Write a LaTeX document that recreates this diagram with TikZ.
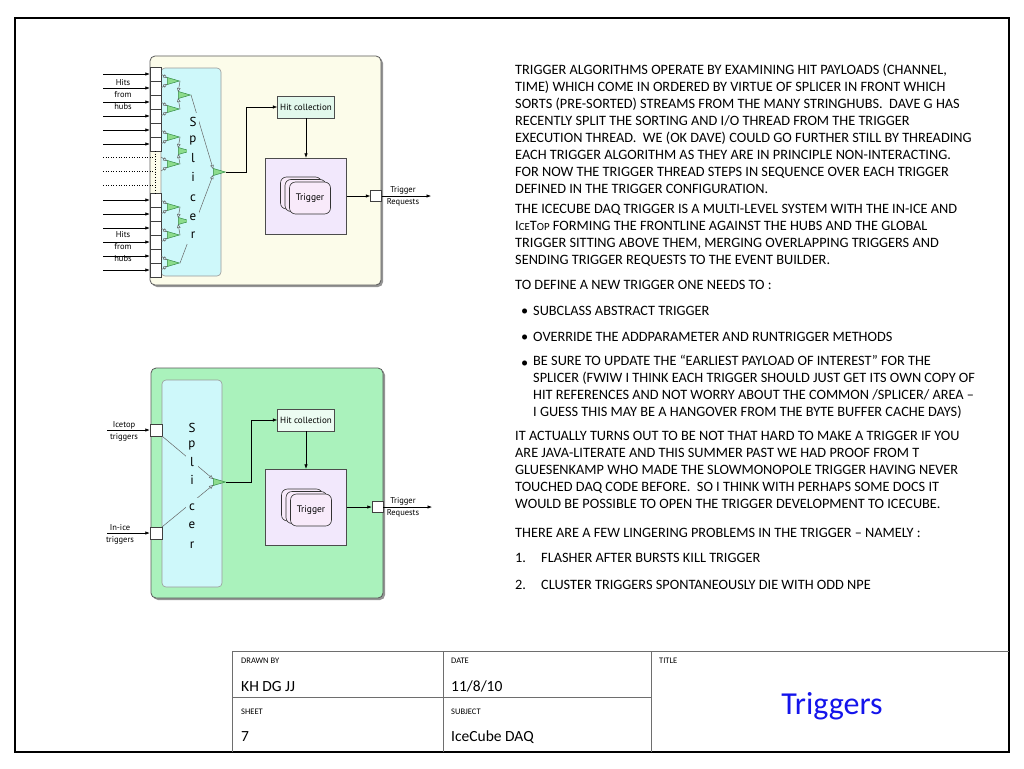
\documentclass[tikz,border=0pt]{standalone}
\usepackage{fontspec}
\setmainfont{Carlito}
\newfontfamily\diagfont{PT Sans}
\usetikzlibrary{arrows.meta,positioning,shapes.geometric,shadows,calc}

\definecolor{creamfill}{RGB}{252,252,234}
\definecolor{panelgreen}{RGB}{170,242,188}
\definecolor{splicecyan}{RGB}{206,248,250}
\definecolor{hitmint}{RGB}{226,248,236}
\definecolor{hitpale}{RGB}{236,252,242}
\definecolor{triglav}{RGB}{242,232,252}
\definecolor{cardfill}{RGB}{248,234,250}
\definecolor{muxgreen}{RGB}{140,220,140}
\definecolor{muxedge}{RGB}{50,140,70}
\definecolor{titleblue}{RGB}{20,20,235}
\definecolor{rulegray}{RGB}{110,110,110}

\begin{document}
\begin{tikzpicture}[x=1pt,y=-1pt,
    every node/.style={inner sep=0pt},
    panel/.style={draw=black!65, rounded corners=5pt, line width=0.8pt,
        drop shadow={shadow xshift=2pt, shadow yshift=-2pt, fill=black!60, opacity=0.7}},
    splicebox/.style={draw=black!40, fill=splicecyan, rounded corners=4pt, line width=0.6pt},
    port/.style={rectangle, draw=black!75, fill=white, minimum width=11pt, minimum height=14pt, line width=0.5pt},
    outport/.style={rectangle, draw=black!75, fill=white, minimum width=11pt, minimum height=11pt, line width=0.5pt},
    mux/.style={isosceles triangle, isosceles triangle stretches, shape border rotate=0,
        minimum width=7pt, minimum height=12pt, draw=muxedge, fill=muxgreen, line width=0.5pt},
    feed/.style={-{Triangle[open, length=4pt, width=3.5pt]}, draw=black!60, line width=0.5pt},
    letter/.style={fill=splicecyan, minimum width=12pt, minimum height=18pt, font=\diagfont\fontsize{13}{13}\selectfont},
    hitbox/.style={rectangle, draw=black!70, minimum width=57pt, minimum height=22pt, font=\diagfont\fontsize{9}{10}\selectfont},
    trigbox/.style={rectangle, draw=black!70, fill=triglav, minimum width=81pt, minimum height=76pt},
    card/.style={rectangle, draw=black!80, fill=cardfill, rounded corners=6pt, minimum width=41pt, minimum height=32pt,
        line width=0.6pt, font=\diagfont\fontsize{9.5}{10}\selectfont},
    arrow/.style={-{Latex[length=4.5pt, width=3.5pt]}, line width=0.6pt},
    tag/.style={align=center, font=\diagfont\fontsize{8.5}{12}\selectfont},
    body/.style={anchor=north west, align=left, execute at begin node=\strut, font=\fontsize{14.3}{17}\selectfont},
    rule/.style={draw=rulegray, line width=0.8pt},
    cellhead/.style={anchor=base west, font=\fontsize{8.5}{9}\selectfont},
    cellval/.style={anchor=base west, font=\fontsize{15.5}{16}\selectfont}
]
\useasboundingbox (0,0) rectangle (1024,768);

% sheet frame
\draw[line width=2.2pt] (15,18) rectangle (1009,752);

% ---- upper panel: hits from hubs ----
\draw[panel, fill=creamfill] (150,56) rectangle (381,285);
\draw[splicebox] (161,68) rectangle (221,276);

\foreach \y [count=\i] in {74,88,102,116,130,144,200,214,228,242,256,270} {
    \node[port] (pa\i) at (155.5,\y) {};
    \coordinate (ina\i) at (103,\y);
    \draw[arrow] (ina\i) -- (pa\i.west);
}
\foreach \y [count=\i] in {157,171,185} {
    \coordinate (dota\i) at (103,\y);
    \coordinate (dotb\i) at (155,\y);
    \draw[dotted, line width=0.6pt] (dota\i) -- (dotb\i);
}
\coordinate (gaptop) at (155,151);
\coordinate (gapbot) at (155,193);
\draw[dotted, line width=0.6pt] (gaptop) -- (gapbot);

\foreach \y [count=\i] in {74,88,102,116,130,144,157,171,185,200,214,228,242,256,270}
    \coordinate (la\i) at (161,\y);

\foreach \y [count=\i] in {81,109,137,164,207,235,263}
    \node[mux] (ma\i) at (170,\y) {};
\foreach \m/\p/\q in {1/1/2, 2/3/4, 3/5/6, 4/7/8, 5/10/11, 6/12/13, 7/14/15} {
    \draw[feed] (la\p) -- ([yshift=3pt]ma\m.west);
    \draw[feed] (la\q) -- ([yshift=-3pt]ma\m.west);
}
\node[mux] (mb1) at (181,95) {};
\node[mux] (mb2) at (181,151) {};
\node[mux] (mb3) at (181,221) {};
\foreach \m/\p/\q in {1/1/2, 2/3/4, 3/5/6} {
    \draw[feed] (ma\p.east) -- ([yshift=3pt]mb\m.west);
    \draw[feed] (ma\q.east) -- ([yshift=-3pt]mb\m.west);
}
\node[mux] (fa) at (216,172) {};
\draw[feed] (mb1.east) -- ([yshift=3pt]fa.west);
\draw[feed] (ma7.east) -- ([yshift=-3pt]fa.west);

\foreach \ch/\y [count=\i] in {S/122, p/140, l/158, i/177, c/198, e/217, r/235}
    \node[letter] (spa\i) at (193,\y) {\ch};

\node[tag] (hitsa) at (123,95) {Hits\\from\\hubs};
\node[tag] (hitsb) at (123,247) {Hits\\from\\hubs};

\node[hitbox, fill=hitmint] (hita) at (306,107) {Hit collection};
\node[trigbox] (triga) at (306,196) {};
\node[card] (caa) at (301,193) {};
\node[card] (cab) at (305.5,195.5) {};
\node[card] (cac) at (310,198) {Trigger};
\node[outport] (oa) at (376,196) {};
\coordinate (outa) at (431,196);
\node[tag] (reqa) at (403,196) {Trigger\\Requests};

\draw[arrow] (fa.east) -- ++(20,0) |- (hita.west);
\draw[arrow] (hita.south) -- (triga.north);
\draw[arrow] (triga.east) -- (oa.west);
\draw[arrow] (oa.east) -- (outa);

% ---- lower panel: icetop / in-ice triggers ----
\draw[panel, fill=panelgreen] (151,368) rectangle (383,598);
\draw[splicebox] (162,380) rectangle (222,587);

\node[outport, minimum width=12pt, minimum height=12pt] (pi) at (156,430) {};
\node[outport, minimum width=12pt, minimum height=12pt] (pn) at (156,533) {};
\coordinate (ini) at (107,430);
\coordinate (inn) at (107,533);
\draw[arrow] (ini) -- (pi.west);
\draw[arrow] (inn) -- (pn.west);
\node[tag] (icetop) at (124,431) {Icetop\\triggers};
\node[tag] (inice) at (120,534.5) {In-ice\\triggers};

\node[mux] (fb) at (216,482) {};
\draw[feed] (pi.south east) -- ([yshift=3pt]fb.west);
\draw[feed] (pn.north east) -- ([yshift=-3pt]fb.west);

\foreach \ch/\y [count=\i] in {S/428, p/445, l/462, i/480, c/507, e/525, r/545}
    \node[letter] (spb\i) at (192,\y) {\ch};

\node[hitbox, fill=hitpale] (hitb) at (306,420) {Hit collection};
\node[trigbox] (trigb) at (306,507) {};
\node[card] (cba) at (302,505) {};
\node[card] (cbb) at (306.5,507.5) {};
\node[card] (cbc) at (311,510) {Trigger};
\node[outport] (ob) at (377.5,507) {};
\coordinate (outb) at (432,507);
\node[tag] (reqb) at (403,507) {Trigger\\Requests};

\draw[arrow] (fb.east) -- ++(25,0) |- (hitb.west);
\draw[arrow] (hitb.south) -- (trigb.north);
\draw[arrow] (trigb.east) -- (ob.west);
\draw[arrow] (ob.east) -- (outb);

% ---- notes ----
\node[body] (p1) at (515,63.8) {TRIGGER ALGORITHMS OPERATE BY EXAMINING HIT PAYLOADS (CHANNEL,\\
TIME) WHICH COME IN ORDERED BY VIRTUE OF SPLICER IN FRONT WHICH\\
SORTS (PRE-SORTED) STREAMS FROM THE MANY STRINGHUBS.\ \ DAVE G HAS\\
RECENTLY SPLIT THE SORTING AND I/O THREAD FROM THE TRIGGER\\
EXECUTION THREAD.\ \ WE (OK DAVE) COULD GO FURTHER STILL BY THREADING\\
EACH TRIGGER ALGORITHM AS THEY ARE IN PRINCIPLE NON-INTERACTING.\\
FOR NOW THE TRIGGER THREAD STEPS IN SEQUENCE OVER EACH TRIGGER\\
DEFINED IN THE TRIGGER CONFIGURATION.};
\node[body] (p2) at (515,204) {THE ICECUBE DAQ TRIGGER IS A MULTI-LEVEL SYSTEM WITH THE IN-ICE AND\\
I{\fontsize{10.9}{11}\selectfont CE}T{\fontsize{10.9}{11}\selectfont OP} FORMING THE FRONTLINE AGAINST THE HUBS AND THE GLOBAL\\
TRIGGER SITTING ABOVE THEM, MERGING OVERLAPPING TRIGGERS AND\\
SENDING TRIGGER REQUESTS TO THE EVENT BUILDER.};
\node[body] (p3) at (515,277.1) {TO DEFINE A NEW TRIGGER ONE NEEDS TO :};
\node[body] (b1) at (521,303.1) {•};
\node[body] (t1) at (533,303.1) {SUBCLASS ABSTRACT TRIGGER};
\node[body] (b2) at (521,329.1) {•};
\node[body] (t2) at (533,329.1) {OVERRIDE THE ADDPARAMETER AND RUNTRIGGER METHODS};
\node[body] (b3) at (521,355.1) {•};
\node[body] (t3) at (533,355.1) {BE SURE TO UPDATE THE “EARLIEST PAYLOAD OF INTEREST” FOR THE\\
SPLICER (FWIW I THINK EACH TRIGGER SHOULD JUST GET ITS OWN COPY OF\\
HIT REFERENCES AND NOT WORRY ABOUT THE COMMON /SPLICER/ AREA –\\
I GUESS THIS MAY BE A HANGOVER FROM THE BYTE BUFFER CACHE DAYS)};
\node[body] (p4) at (515,431.1) {IT ACTUALLY TURNS OUT TO BE NOT THAT HARD TO MAKE A TRIGGER IF YOU\\
ARE JAVA-LITERATE AND THIS SUMMER PAST WE HAD PROOF FROM T\\
GLUESENKAMP WHO MADE THE SLOWMONOPOLE TRIGGER HAVING NEVER\\
TOUCHED DAQ CODE BEFORE.\ \ SO I THINK WITH PERHAPS SOME DOCS IT\\
WOULD BE POSSIBLE TO OPEN THE TRIGGER DEVELOPMENT TO ICECUBE.};
\node[body] (p5) at (515,525.1) {THERE ARE A FEW LINGERING PROBLEMS IN THE TRIGGER – NAMELY :};
\node[body] (n1) at (515,550.1) {1.};
\node[body] (u1) at (541,550.1) {FLASHER AFTER BURSTS KILL TRIGGER};
\node[body] (n2) at (515,577.1) {2.};
\node[body] (u2) at (541,577.1) {CLUSTER TRIGGERS SPONTANEOUSLY DIE WITH ODD NPE};

% ---- title block ----
\draw[rule] (232,752) -- (232,651) -- (1009,651);
\draw[rule] (232,697) -- (651,697);
\draw[rule] (443,651) -- (443,752);
\draw[rule] (651,651) -- (651,752);
\node[cellhead] (hdrawn) at (241,663) {DRAWN BY};
\node[cellhead] (hdate) at (451,663) {DATE};
\node[cellhead] (htitle) at (659,663) {TITLE};
\node[cellval] (vdrawn) at (241,691) {KH DG JJ};
\node[cellval] (vdate) at (451,691) {11/8/10};
\node[cellhead] (hsheet) at (241,714) {SHEET};
\node[cellhead] (hsubj) at (451,714) {SUBJECT};
\node[cellval] (vsheet) at (241,741) {7};
\node[cellval] (vsubj) at (451,741) {IceCube DAQ};
\node[text=titleblue, font=\fontsize{32}{32}\selectfont] (title) at (832,706) {Triggers};
\end{tikzpicture}
\end{document}
